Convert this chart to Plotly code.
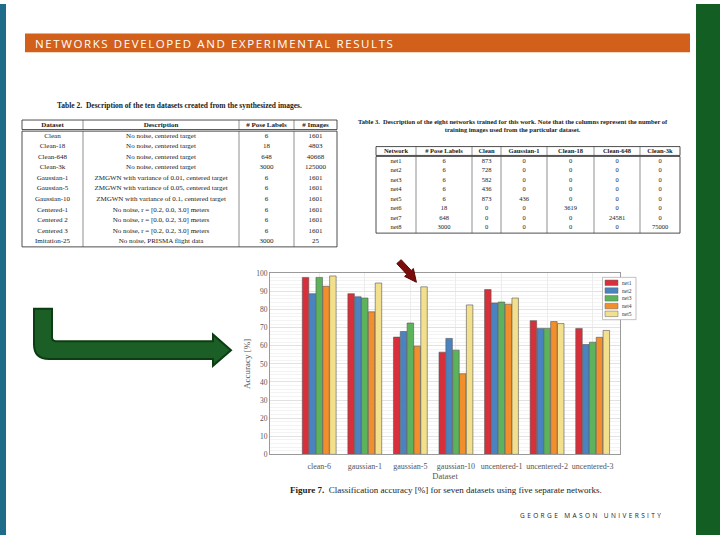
import plotly.graph_objects as go

W, H = 720, 540

# ---------------- bar chart data ----------------
datasets = ["clean-6", "gaussian-1", "gaussian-5", "gaussian-10",
            "uncentered-1", "uncentered-2", "uncentered-3"]
net_names = ["net1", "net2", "net3", "net4", "net5"]
net1 = [97.8, 88.8, 64.8, 56.5, 91.1, 73.9, 69.6]
net2 = [88.8, 87.1, 67.9, 64.1, 83.7, 69.6, 60.7]
net3 = [97.8, 86.4, 72.6, 57.6, 84.2, 69.6, 62.0]
net4 = [92.9, 78.8, 59.8, 44.6, 83.0, 73.4, 64.7]
net5 = [98.6, 94.7, 92.6, 82.6, 86.4, 72.3, 68.5]
net_values = [net1, net2, net3, net4, net5]
net_colors = ["#d7303a", "#4a83c0", "#5db35c", "#f28e2b", "#f3e08c"]

# ---------------- table 2 data ----------------
t2_header = ["Dataset", "Description", "# Pose Labels", "# Images"]
t2_dataset = ["Clean", "Clean-18", "Clean-648", "Clean-3k", "Gaussian-1", "Gaussian-5",
              "Gaussian-10", "Centered-1", "Centered 2", "Centered 3", "Imitation-25"]
t2_desc = ["No noise, centered target", "No noise, centered target",
           "No noise, centered target", "No noise, centered target",
           "ZMGWN with variance of 0.01, centered target",
           "ZMGWN with variance of 0.05, centered target",
           "ZMGWN with variance of 0.1, centered target",
           "No noise, r = [0.2, 0.0, 3.0] meters",
           "No noise, r = [0.0, 0.2, 3.0] meters",
           "No noise, r = [0.2, 0.2, 3.0] meters",
           "No noise, PRISMA flight data"]
t2_pose = [6, 18, 648, 3000, 6, 6, 6, 6, 6, 6, 3000]
t2_images = [1601, 4803, 40668, 125000, 1601, 1601, 1601, 1601, 1601, 1601, 25]

# ---------------- table 3 data ----------------
t3_header = ["Network", "# Pose Labels", "Clean", "Gaussian-1", "Clean-18", "Clean-648", "Clean-3k"]
t3_network = ["net1", "net2", "net3", "net4", "net5", "net6", "net7", "net8"]
t3_pose = [6, 6, 6, 6, 6, 18, 648, 3000]
t3_clean = [873, 728, 582, 436, 873, 0, 0, 0]
t3_gauss1 = [0, 0, 0, 0, 436, 0, 0, 0]
t3_clean18 = [0, 0, 0, 0, 0, 3619, 0, 0]
t3_clean648 = [0, 0, 0, 0, 0, 0, 24581, 0]
t3_clean3k = [0, 0, 0, 0, 0, 0, 0, 75000]

SERIF = "Liberation Serif"
PAGE = dict(xref="x2", yref="y2")

fig = go.Figure()

# ---------------- bars ----------------
for name, vals, col in zip(net_names, net_values, net_colors):
    fig.add_trace(go.Bar(x=datasets, y=vals, name=name, showlegend=False,
                         marker=dict(color=col, line=dict(color="#555555", width=0.6)),
                         xaxis="x", yaxis="y"))

shapes = []


def rect(x0, x1, y0, y1, fill="rgba(0,0,0,0)", lc="#222", lw=0.0, layer="above"):
    return dict(type="rect", x0=x0, x1=x1, y0=y0, y1=y1, fillcolor=fill,
                line=dict(color=lc, width=lw), layer=layer, **PAGE)


def vline(x, y0, y1, lc="#444", lw=0.6):
    return dict(type="line", x0=x, x1=x, y0=y0, y1=y1, line=dict(color=lc, width=lw), **PAGE)


def text_table(columns, header, bounds, head_y, row_y0, row_dy, size):
    xs, ys, ts = [], [], []
    centers = [(bounds[i] + bounds[i + 1]) / 2 for i in range(len(bounds) - 1)]
    for c, h in zip(centers, header):
        xs.append(c); ys.append(head_y); ts.append("<b>%s</b>" % h)
    for c, col in zip(centers, columns):
        for r, v in enumerate(col):
            xs.append(c); ys.append(row_y0 + r * row_dy); ts.append(str(v))
    fig.add_trace(go.Scatter(x=xs, y=ys, text=ts, mode="text", textposition="middle center",
                             textfont=dict(family=SERIF, size=size, color="#1a1a1a"),
                             hoverinfo="skip", showlegend=False, xaxis="x2", yaxis="y2"))


# ---------------- table 2 ----------------
t2_bounds = [22, 83, 239, 294, 337]
text_table([t2_dataset, t2_desc, t2_pose, t2_images], t2_header, t2_bounds,
           123, 134, 10.77, 7)
shapes.append(rect(22, 337, 118, 127.7, lw=0.8))
shapes.append(rect(22, 337, 129.3, 247, lw=0.8))
for b in t2_bounds[1:-1]:
    shapes.append(vline(b, 118, 127.7))
    shapes.append(vline(b, 129.3, 247))

# ---------------- table 3 ----------------
t3_bounds = [376, 416, 472, 501, 547, 594, 640, 680]
text_table([t3_network, t3_pose, t3_clean, t3_gauss1, t3_clean18, t3_clean648, t3_clean3k],
           t3_header, t3_bounds, 149.5, 160, 9.6, 6.5)
shapes.append(rect(376, 680, 145, 154, lw=0.8))
shapes.append(rect(376, 680, 155, 233, lw=0.8))
for b in t3_bounds[1:-1]:
    shapes.append(vline(b, 145, 154))
    shapes.append(vline(b, 155, 233))

# ---------------- legend (drawn) ----------------
leg_x0, leg_y0, leg_dy = 605, 283.5, 7.9
shapes.append(rect(602.5, 636, 278, 321, fill="white", lc="#999", lw=0.6))
annotations = []
for i, (col, nm) in enumerate(zip(net_colors, net_names)):
    yc = leg_y0 + i * leg_dy
    shapes.append(rect(leg_x0, leg_x0 + 13, yc - 2.8, yc + 2.8, fill=col, lc="#666", lw=0.5))
    annotations.append(dict(text=nm, x=leg_x0 + 15, y=yc, xanchor="left", yanchor="middle",
                            showarrow=False, font=dict(family=SERIF, size=5.5, color="#333"), **PAGE))

# ---------------- slide decorations ----------------
shapes.insert(0, rect(0, 6, 0, 540, fill="#1f6b8a", layer="below"))
shapes.insert(0, rect(696, 720, 0, 540, fill="#135e22", layer="below"))
shapes.insert(0, rect(25, 690, 30, 49, fill="#d2601a", layer="below"))

# green bent arrow
green_pts = "M 34,310 L 34,346 Q 34,361 49,361 L 213,361 L 213,368 L 231,352 L 213,336 L 213,343 " \
            "L 56,343 Q 52,343 52,339 L 52,310 Z"
shapes.append(dict(type="path", path=green_pts, fillcolor="#1c5f26",
                   line=dict(color="#0c3d12", width=2), **PAGE))

# dark red arrow
red_pts = [(401.2, 260), (411.2, 271), (413.4, 269), (416.4, 283), (404.6, 277), (406.8, 275), (396.8, 264)]
rp = "M " + " L ".join("%g,%g" % p for p in red_pts) + " Z"
shapes.append(dict(type="path", path=rp, fillcolor="#7b0c0c",
                   line=dict(color="#5a0606", width=1), **PAGE))

annotations += [
    dict(text='<span style="letter-spacing:1.6px">NETWORKS DEVELOPED AND EXPERIMENTAL RESULTS</span>',
         x=33, y=40, xanchor="left", yanchor="middle", showarrow=False,
         font=dict(family="Open Sans", size=11.5, color="white"), **PAGE),
    dict(text="<b>Table 2.  Description of the ten datasets created from the synthesized images.</b>",
         x=179, y=103, xanchor="center", yanchor="middle",
         showarrow=False, font=dict(family=SERIF, size=7.5, color="#222"), **PAGE),
    dict(text="<b>Table 3.  Description of the eight networks trained for this work. Note that the columns represent the number of</b>"
              "<br><b>training images used from the particular dataset.</b>",
         x=513, y=124, xanchor="center", yanchor="middle",
         showarrow=False, font=dict(family=SERIF, size=6.5, color="#222"), **PAGE),
    dict(text="<b>Figure 7.</b>  Classification accuracy [%] for seven datasets using five separate networks.",
         x=446, y=494, xanchor="center", yanchor="middle",
         showarrow=False, font=dict(family=SERIF, size=9, color="#222"), **PAGE),
    dict(text='<span style="letter-spacing:2.4px">GEORGE MASON UNIVERSITY</span>',
         x=518, y=520, xanchor="left", yanchor="middle", showarrow=False,
         font=dict(family="Open Sans", size=6.5, color="#222"), **PAGE),
]

fig.update_layout(
    width=W, height=H, margin=dict(l=0, r=0, t=0, b=0),
    paper_bgcolor="white", plot_bgcolor="rgba(0,0,0,0)",
    barmode="group", bargap=0.25, bargroupgap=0.05,
    shapes=shapes, annotations=annotations, showlegend=False,
    xaxis=dict(domain=[270 / W, 620 / W], range=[-1.08, 6.6], type="category",
               showline=True, linecolor="#9a9a9a", linewidth=1, mirror=True,
               showgrid=True, gridcolor="#ececec", gridwidth=0.6,
               ticks="", ticklabelstandoff=4, tickfont=dict(family=SERIF, size=8, color="#555"),
               title=dict(text="Dataset", font=dict(family=SERIF, size=8.5, color="#555"), standoff=3)),
    yaxis=dict(domain=[1 - 458 / H, 1 - 274 / H], range=[0, 100], dtick=10,
               showline=True, linecolor="#9a9a9a", linewidth=1, mirror=True,
               showgrid=True, gridcolor="#e2e2e2", gridwidth=0.6, zeroline=False,
               minor=dict(dtick=2, showgrid=True, gridcolor="#f3f3f3", gridwidth=0.5),
               ticks="", tickfont=dict(family=SERIF, size=7.5, color="#555"),
               title=dict(text="Accuracy [%]", font=dict(family=SERIF, size=9, color="#555"), standoff=4)),
    xaxis2=dict(domain=[0, 1], range=[0, W], visible=False, fixedrange=True, anchor="y2"),
    yaxis2=dict(domain=[0, 1], range=[H, 0], visible=False, fixedrange=True, anchor="x2"),
)

fig.write_html("out.html", config={"displayModeBar": False},
               post_script="document.body.style.margin='0';document.body.style.overflow='hidden';")
